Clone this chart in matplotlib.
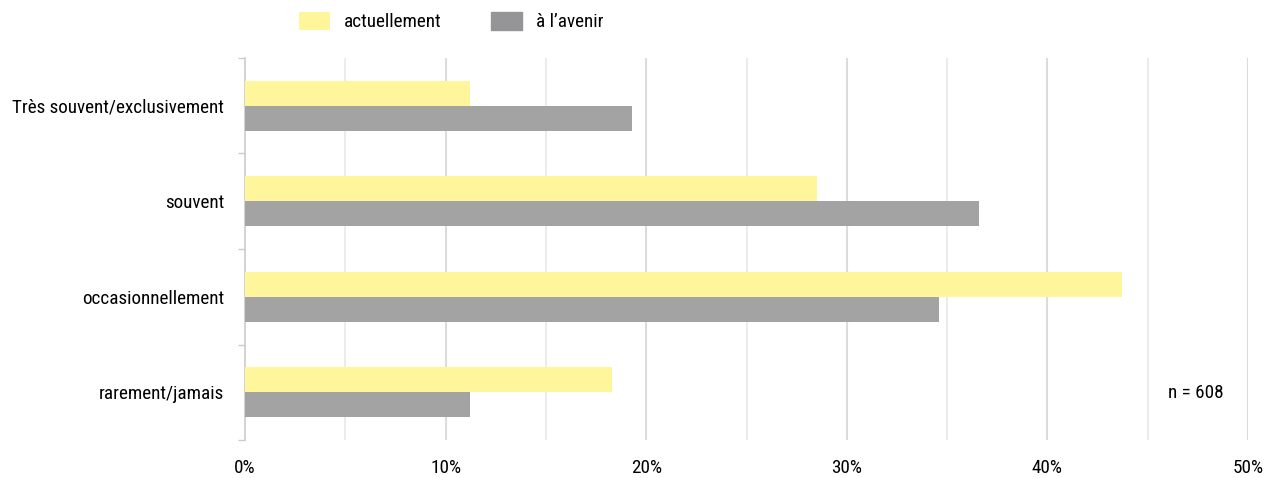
import matplotlib.pyplot as plt
import numpy as np
from matplotlib import font_manager

# Data
categories = ['Très souvent/exclusivement', 'souvent', 'occasionnellement', 'rarement/jamais']
actuellement = [11.2, 28.5, 43.7, 18.3]
avenir = [19.3, 36.6, 34.6, 11.2]
series_labels = ['actuellement', 'à l’avenir']
x_ticks = [0, 10, 20, 30, 40, 50]

names = {f.name for f in font_manager.fontManager.ttflist}
font = 'DejaVu Sans'
for cand in ['Liberation Sans Narrow', 'Roboto Condensed', 'Open Sans Condensed', 'Lato', 'Roboto']:
    if cand in names:
        font = cand
        break
plt.rcParams['font.family'] = [font, 'DejaVu Sans']
fs = 13.8

yellow = '#fff59a'
grey = '#a3a3a3'

fig = plt.figure(figsize=(12.8, 4.78), dpi=100)
ax = fig.add_axes([245 / 1280, 1 - 440 / 478, 1003 / 1280, 382 / 478])

y = np.arange(len(categories))
h = 0.262
ax.barh(y - h / 2, actuellement, height=h, color=yellow, zorder=3, label=series_labels[0])
ax.barh(y + h / 2, avenir, height=h, color=grey, zorder=3, label=series_labels[1])

ax.set_xlim(0, 50)
ax.set_ylim(len(categories) - 0.5, -0.5)

# gridlines every 5%
for v in np.arange(5, 51, 5):
    c = '#dcdcdc' if v % 10 == 0 else '#ececec'
    ax.axvline(v, color=c, lw=1.5, zorder=1)

ax.set_xticks(x_ticks)
ax.set_xticklabels([f'{t}%' for t in x_ticks], fontsize=fs)
ax.tick_params(axis='x', length=0, pad=14)

ax.set_yticks(y)
ax.set_yticklabels(categories, fontsize=fs)
ax.tick_params(axis='y', length=0, pad=15)
ax.set_yticks(np.arange(-0.5, len(categories)), minor=True)
ax.tick_params(axis='y', which='minor', length=5, color='#cccccc', width=1)

for s in ['top', 'right', 'bottom']:
    ax.spines[s].set_visible(False)
ax.spines['left'].set_color('#cccccc')
ax.spines['left'].set_linewidth(1.2)

ax.text(1196 / 1280, 1 - 393 / 478, 'n = 608', transform=fig.transFigure,
        ha='center', va='center', fontsize=fs)

leg = fig.legend(loc='upper left', bbox_to_anchor=(282 / 1280, 1.012), ncol=2,
                 frameon=False, fontsize=fs, handlelength=1.62, handleheight=1.1,
                 columnspacing=2.6, handletextpad=0.7)
leg.legend_handles[1].set_color('#959598')

fig.savefig('out.png', dpi=100)
